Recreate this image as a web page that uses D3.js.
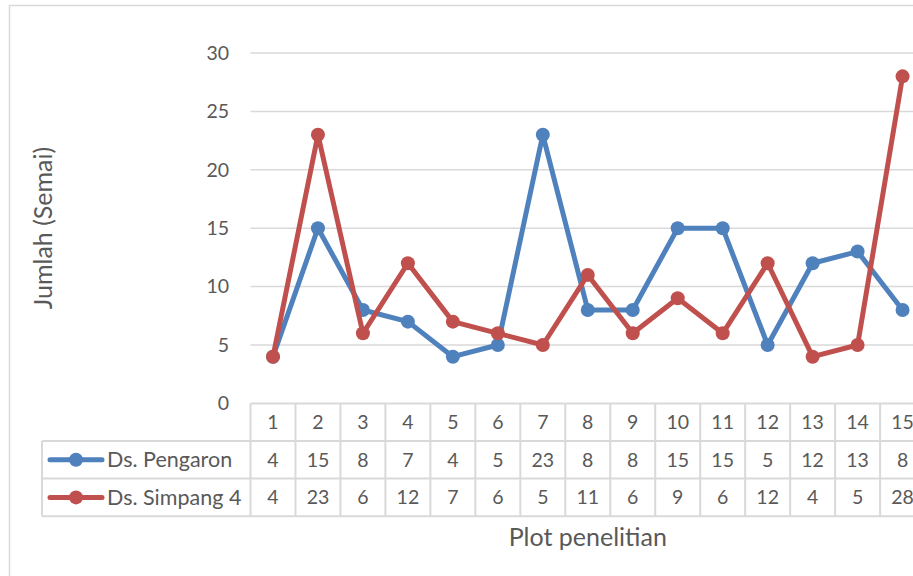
<!DOCTYPE html>
<html>
<head>
<meta charset="utf-8">
<script src="https://cdn.jsdelivr.net/npm/d3@7"></script>
<style>
  html, body { margin: 0; padding: 0; background: #fff; overflow: hidden; }
  svg { display: block; font-family: Lato, "Open Sans", sans-serif; }
</style>
</head>
<body>
<svg id="chart" width="913" height="576"></svg>
<script>
// Plot numbers and seedling counts per village
const categories = ["1","2","3","4","5","6","7","8","9","10","11","12","13","14","15"];
const pengaron = [4, 15, 8, 7, 4, 5, 23, 8, 8, 15, 15, 5, 12, 13, 8];
const simpang4 = [4, 23, 6, 12, 7, 6, 5, 11, 6, 9, 6, 12, 4, 5, 28];
const seriesNames = ["Ds. Pengaron", "Ds. Simpang 4"];
const seriesColors = ["#4f81bd", "#c0504d"];
const yTicks = [0, 5, 10, 15, 20, 25, 30];

const series = [
  { name: seriesNames[0], color: seriesColors[0], values: pengaron },
  { name: seriesNames[1], color: seriesColors[1], values: simpang4 }
];

const svg = d3.select("#chart");
const textColor = "#595959";
const gridColor = "#d9d9d9";
const numSize = 19.5;     // tick and table numbers
const nameSize = 21.5;    // series names in the table
const titleSize = 25;     // axis titles

// chart frame (runs past the right and bottom edges)
svg.append("rect")
  .attr("x", 9.5).attr("y", 5.5)
  .attr("width", 1000).attr("height", 700)
  .attr("fill", "#fff").attr("stroke", gridColor).attr("stroke-width", 1.5);

const plotLeft = 250.5, colW = 44.97;
const x = d3.scaleBand().domain(categories)
  .range([plotLeft, plotLeft + colW * categories.length]);
const y = d3.scaleLinear().domain([0, 30]).range([403.4, 53]);

// horizontal gridlines
svg.append("g").selectAll("line").data(yTicks.filter(t => t > 0)).join("line")
  .attr("x1", plotLeft).attr("x2", 940)
  .attr("y1", d => y(d)).attr("y2", d => y(d))
  .attr("stroke", gridColor).attr("stroke-width", 1.5);

// y axis labels
const yAxis = d3.axisLeft(y).tickValues(yTicks).tickSize(0).tickPadding(0);
const yg = svg.append("g").attr("transform", "translate(229,0)").call(yAxis);
yg.select(".domain").remove();
yg.selectAll("text")
  .attr("fill", textColor).attr("font-size", numSize)
  .attr("font-family", "Lato, sans-serif");

// y axis title
svg.append("text")
  .attr("transform", "translate(52,228) rotate(-90)")
  .attr("text-anchor", "middle")
  .attr("fill", textColor).attr("font-size", titleSize)
  .text("Jumlah (Semai)");

// lines and markers
const line = d3.line()
  .x((d, i) => x(categories[i]) + x.bandwidth() / 2)
  .y(d => y(d));

series.forEach(s => {
  svg.append("path")
    .datum(s.values)
    .attr("d", line)
    .attr("fill", "none")
    .attr("stroke", s.color)
    .attr("stroke-width", 5)
    .attr("stroke-linejoin", "round")
    .attr("stroke-linecap", "round");
  svg.append("g").selectAll("circle").data(s.values).join("circle")
    .attr("cx", (d, i) => x(categories[i]) + x.bandwidth() / 2)
    .attr("cy", d => y(d))
    .attr("r", 7)
    .attr("fill", s.color);
});

// data table
const rowTop = 403.4, rowH = 37.6;
const legendLeft = 42;
const tableRight = x.range()[1];
const tg = svg.append("g");
const hl = (x1, x2, yy) => tg.append("line")
  .attr("x1", x1).attr("x2", x2).attr("y1", yy).attr("y2", yy)
  .attr("stroke", gridColor).attr("stroke-width", 2);
const vl = (xx, y1, y2) => tg.append("line")
  .attr("x1", xx).attr("x2", xx).attr("y1", y1).attr("y2", y2)
  .attr("stroke", gridColor).attr("stroke-width", 2);

hl(plotLeft, tableRight, rowTop);
hl(legendLeft, tableRight, rowTop + rowH);
hl(legendLeft, tableRight, rowTop + 2 * rowH);
hl(legendLeft, tableRight, rowTop + 3 * rowH);
vl(legendLeft, rowTop + rowH, rowTop + 3 * rowH);
categories.forEach(c => vl(x(c), rowTop, rowTop + 3 * rowH));
vl(tableRight, rowTop, rowTop + 3 * rowH);

// header row: plot numbers
tg.selectAll("text.cat").data(categories).join("text")
  .attr("class", "cat")
  .attr("x", d => x(d) + x.bandwidth() / 2)
  .attr("y", rowTop + rowH / 2)
  .attr("dy", "0.35em")
  .attr("text-anchor", "middle")
  .attr("fill", textColor).attr("font-size", numSize)
  .text(d => d);

// series rows
series.forEach((s, si) => {
  const cy = rowTop + rowH * (si + 1) + rowH / 2;
  tg.append("line")
    .attr("x1", 50).attr("x2", 102).attr("y1", cy).attr("y2", cy)
    .attr("stroke", s.color).attr("stroke-width", 5).attr("stroke-linecap", "round");
  tg.append("circle").attr("cx", 76).attr("cy", cy).attr("r", 7).attr("fill", s.color);
  tg.append("text")
    .attr("x", 107).attr("y", cy).attr("dy", "0.35em")
    .attr("fill", textColor).attr("font-size", nameSize)
    .text(s.name);
  tg.append("g").selectAll("text").data(s.values).join("text")
    .attr("x", (d, i) => x(categories[i]) + x.bandwidth() / 2)
    .attr("y", cy).attr("dy", "0.35em")
    .attr("text-anchor", "middle")
    .attr("fill", textColor).attr("font-size", numSize)
    .text(d => d);
});

// x axis title
svg.append("text")
  .attr("x", (plotLeft + tableRight) / 2)
  .attr("y", 546)
  .attr("text-anchor", "middle")
  .attr("fill", textColor).attr("font-size", titleSize)
  .text("Plot penelitian");
</script>
</body>
</html>
